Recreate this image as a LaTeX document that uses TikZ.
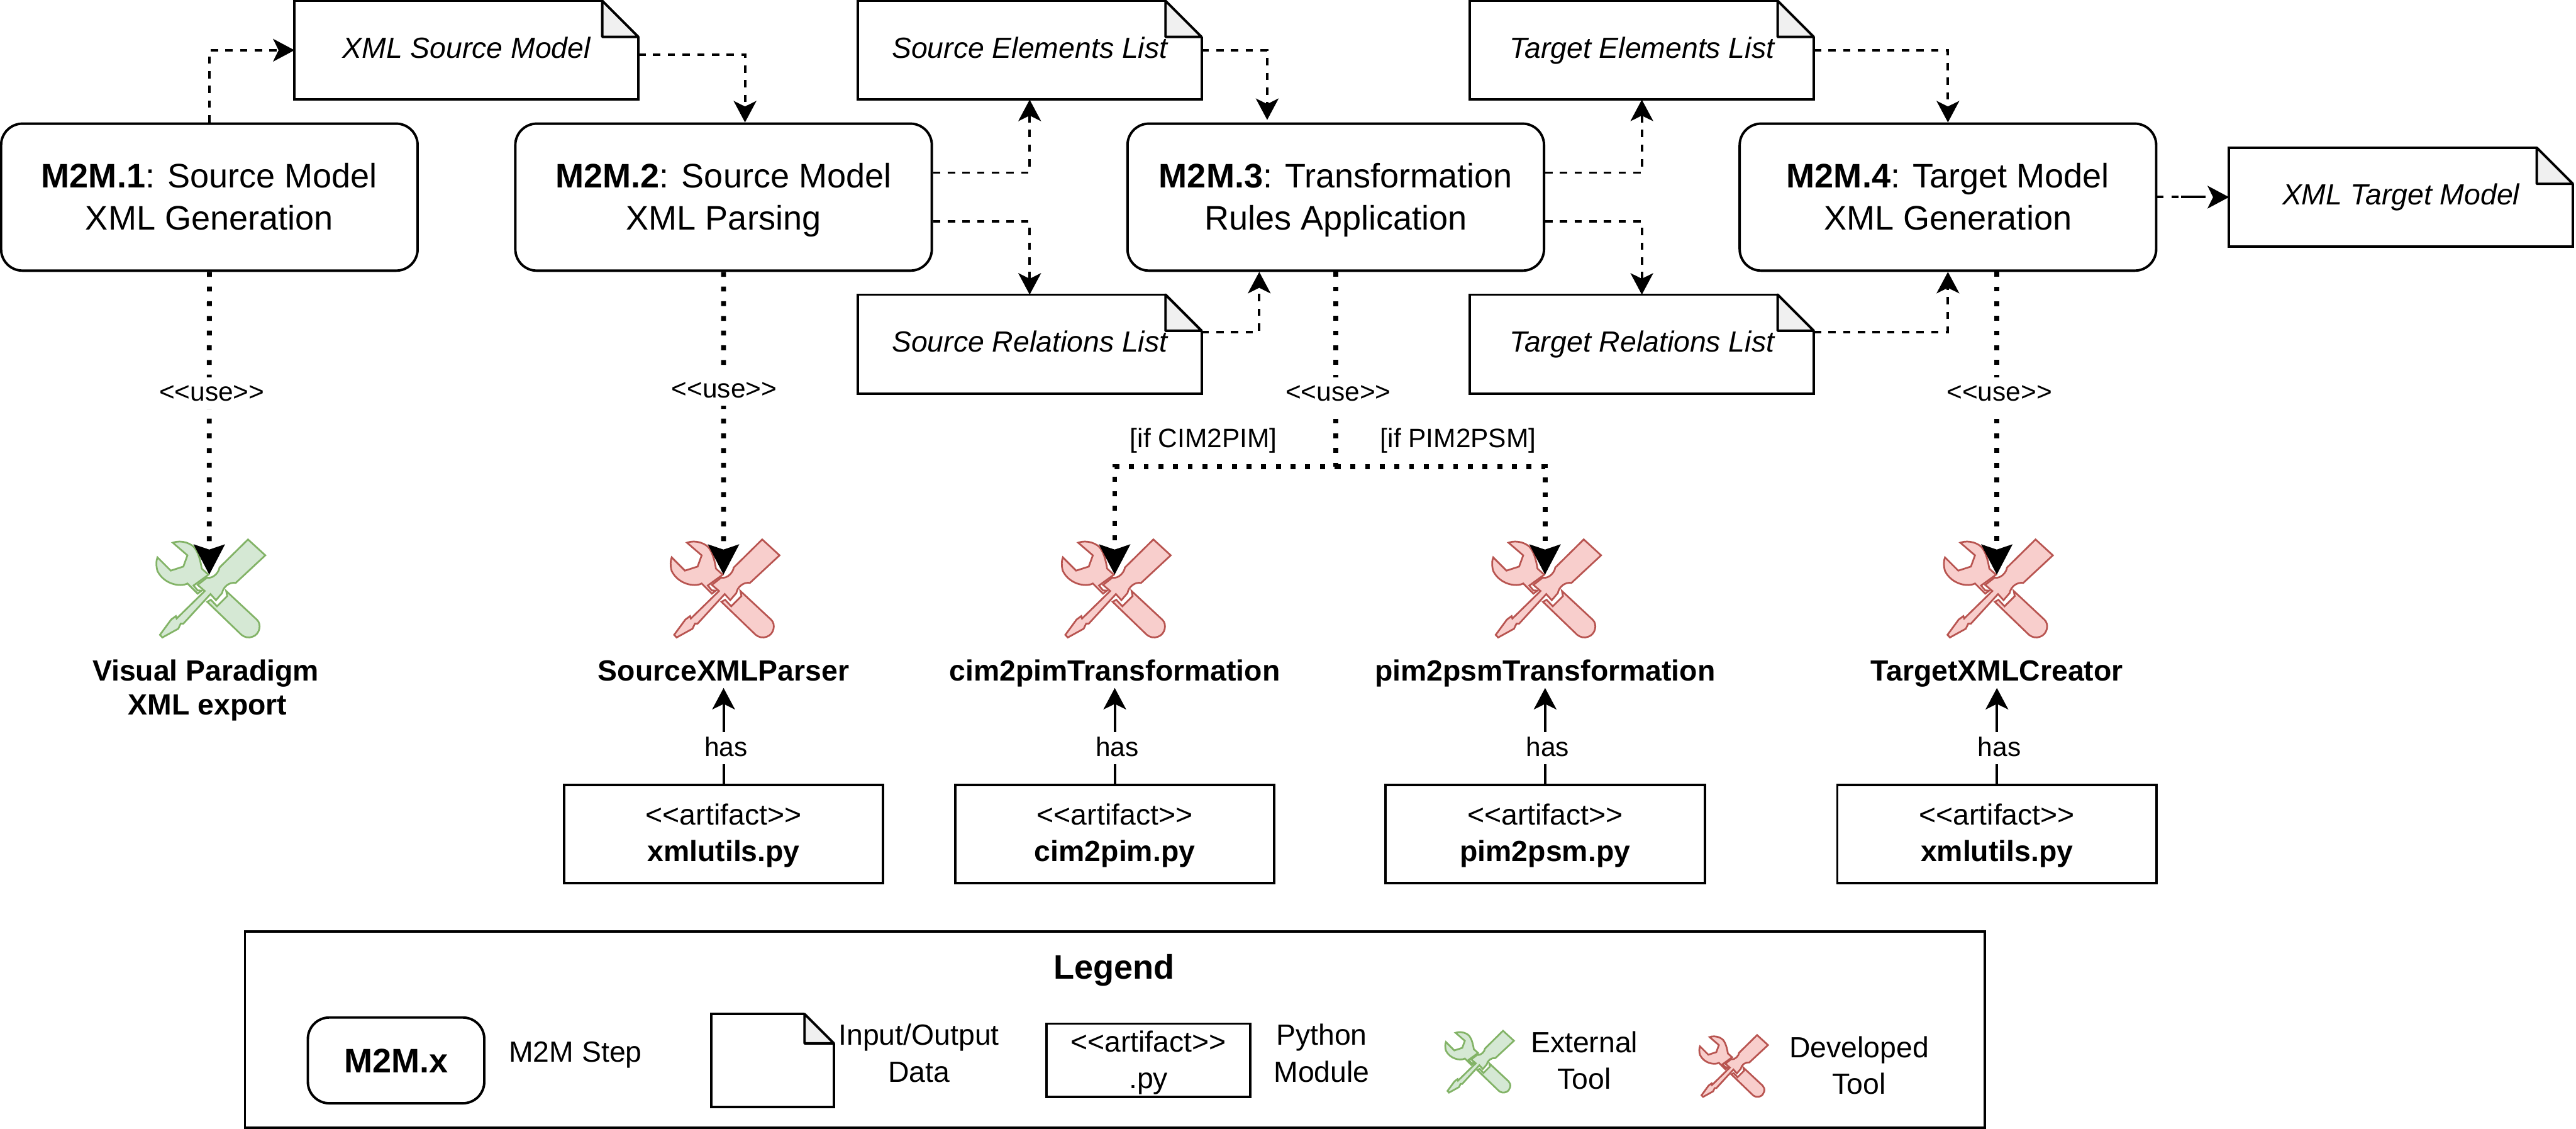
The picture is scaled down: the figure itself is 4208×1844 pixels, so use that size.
\documentclass[tikz,border=0pt]{standalone}
\usepackage{fontspec}
\setmainfont{Liberation Sans}
\usepackage{xcolor}
\usepackage{tikz}
\usetikzlibrary{calc}
\usetikzlibrary{arrows.meta}
\definecolor{toolgreen}{HTML}{82B366}
\definecolor{toolgreenfill}{HTML}{D5E8D4}
\definecolor{toolred}{HTML}{B85450}
\definecolor{toolredfill}{HTML}{F8CECC}
\definecolor{foldgray}{HTML}{F0F0F0}
\newcommand{\sizeL}{\fontsize{15.8}{19.35}\selectfont}
\newcommand{\sizeM}{\fontsize{13.55}{17}\selectfont}
\newcommand{\sizeS}{\fontsize{12.4}{15}\selectfont}
\tikzset{
 stepbox/.style={draw, line width=1.14pt, rounded corners=.35cm, minimum width=6.8cm, minimum height=2.4cm, align=center, font=\sizeL, text height=1.18cm, text depth=.12cm},
 notebox/.style={minimum width=5.6cm, minimum height=1.6cm, inner sep=0, font=\sizeM\itshape, text height=.35cm, text depth=.1cm},
 artifactbox/.style={draw, line width=1.14pt, minimum width=5.21cm, minimum height=1.6cm, inner sep=0, align=center, font=\sizeM, text height=1.02cm, text depth=.12cm},
 flowtip/.style={-{Stealth[length=.35cm, width=.37cm, inset=.09cm]}},
 flowline/.style={flowtip, line width=1.14pt, dash pattern=on 3.41pt off 3.41pt},
 useline/.style={line width=2.27pt, dash pattern=on 2.27pt off 4.55pt, -{Stealth[length=.49cm, width=.5cm, inset=.08cm]}},
 hasline/.style={flowtip, line width=1.14pt},
 smalllabel/.style={font=\sizeS, fill=white, inner sep=1, text height=.355cm, text depth=.095cm},
 plainlabel/.style={font=\sizeS, inner sep=1, text height=.355cm, text depth=.095cm},
 toolname/.style={font=\sizeM\bfseries, anchor=base, inner sep=0, text height=.36cm, text depth=.11cm},
 legendtext/.style={font=\sizeM, align=center, inner sep=0, anchor=base},
 greentool/.style={draw=toolgreen, fill=toolgreenfill},
 redtool/.style={draw=toolred, fill=toolredfill},
 toolicon/.pic={
  \path[pic actions, line width=.8pt] (-187,-224)..controls (-145,-240) and (-90,-220)..(-75,-192)..controls (-60,-170) and (-50,-130)..(-45,-97)--(-12,-67)--(-85,-14)--(-65,10)--(-45,11)--(-65,26)--(-115,-24)..controls (-150,-5) and (-230,-20)..(-262,-85)..controls (-270,-110) and (-268,-140)..(-262,-152)--(-197,-87)--(-135,-107)--(-115,-162)--cycle;
  \path[pic actions, line width=.8pt] (-18,66)--(0,56)--(30,88)--(80,38)--(75,13)--(225,153)..controls (250,175) and (240,225)..(205,237)..controls (185,245) and (165,240)..(150,228)--cycle;
  \path[pic actions, line width=.8pt] (182,-240)--(267,-162)--(122,-27)..controls (90,-32) and (60,-7)..(55,23)--(25,58)--(-2,28)--(-135,173)--(-148,173)--(-160,198)--(-238,241)--(-250,228)--(-195,153)--(-172,136)--(-168,148)--(-30,13)--(-65,-17)--(-20,-52)..controls (15,-47) and (40,-82)..(42,-102)--cycle;
  \coordinate (-tip) at (-8,-67);
 }
}
\newcommand{\docnote}[5]{
 \node[notebox,#3] (#1) at (#2) {#5};
 \draw[line width=1.14pt] ($(#1.north east)+(-#4,0)$)--(#1.north west)--(#1.south west)--(#1.south east)--($(#1.north east)+(0,#4)$);
 \draw[line width=1.14pt, fill=foldgray, line join=round] ($(#1.north east)+(-#4,0)$)--($(#1.north east)+(0,#4)$)--($(#1.north east)+(-#4,#4)$)--cycle;
}
\begin{document}
\begin{tikzpicture}[x=.01cm, y=-.01cm]
\useasboundingbox (0,0) rectangle (4208,1844);
\node[stepbox] (m1) at (342,322) {\textbf{M2M.1}: Source Model\\XML Generation};
\node[stepbox] (m2) at (1182,322) {\textbf{M2M.2}: Source Model\\XML Parsing};
\node[stepbox] (m3) at (2182,322) {\textbf{M2M.3}: Transformation\\Rules Application};
\node[stepbox] (m4) at (3182,322) {\textbf{M2M.4}: Target Model\\XML Generation};
\docnote{xs}{762,82}{}{59}{XML Source Model}
\docnote{se}{1682,82}{}{59}{Source Elements List}
\docnote{sr}{1682,562}{}{59}{Source Relations List}
\docnote{te}{2682,82}{}{59}{Target Elements List}
\docnote{tr}{2682,562}{}{59}{Target Relations List}
\docnote{xt}{3922,322}{}{59}{XML Target Model}
\pic[greentool, scale=.333] (t1) at (344.5,961) {toolicon};
\node[toolname] (n1) at (336,1112) {Visual Paradigm};
\node[toolname] (n1b) at (339,1168) {XML export};
\foreach \i/\x/\tname/\fname in {2/1182/SourceXMLParser/xmlutils.py, 3/1821/cim2pimTransformation/cim2pim.py, 4/2524/pim2psmTransformation/pim2psm.py, 5/3262/TargetXMLCreator/xmlutils.py} {
 \pic[redtool, scale=.333] (t\i) at (\x+2.5,961) {toolicon};
 \node[toolname] (n\i) at (\x,1112) {\tname};
 \node[artifactbox] (a\i) at (\x,1362) {<{}<artifact>{}>\\\textbf{\fname}};
 \draw[hasline] (a\i.north) -- (n\i.south);
 \node[smalllabel] (h\i) at (\x+4,1222) {has};
}
\draw[flowline] (m1.north) |- (xs.west);
\draw[flowline] ($(xs.east)+(0,7)$) -| ($(m2.north)+(35,0)$);
\draw[flowline] ($(m2.east)+(0,-40)$) -| (se.south);
\draw[flowline] ($(m2.east)+(0,40)$) -| (sr.north);
\draw[flowline] (se.east) -| ($(m3.north)+(-112,-4)$);
\draw[flowline] ($(sr.east)+(0,-20)$) -| ($(m3.south)+(-125,0)$);
\draw[flowline] ($(m3.east)+(0,-40)$) -| (te.south);
\draw[flowline] ($(m3.east)+(0,40)$) -| (tr.north);
\draw[flowline] (te.east) -| (m4.north);
\draw[flowline] ($(tr.east)+(0,-20)$) -| (m4.south);
\draw[flowtip, line width=1.14pt, dash pattern=on 2.85pt off 3.7pt on 3.4pt off 1.14pt on 11.4pt off 9pt] (m4.east) -- (xt.west);
\coordinate (fork) at (2182,762);
\draw[useline] (m1.south) -- (t1-tip);
\draw[useline] (m2.south) -- (t2-tip);
\draw[useline] (m3.south) -- (fork) -| (t3-tip);
\draw[useline] (fork) -| (t4-tip);
\draw[useline] (m4.south -| t5-tip) -- (t5-tip);
\node[smalllabel] (u1) at (346,642) {<{}<use>{}>};
\node[smalllabel] (u2) at (1183,637) {<{}<use>{}>};
\node[smalllabel] (u3) at (2186,642) {<{}<use>{}>};
\node[smalllabel] (u4) at (3266,642) {<{}<use>{}>};
\node[plainlabel] (c1) at (1966,718) {[if CIM2PIM]};
\node[plainlabel] (c2) at (2382,718) {[if PIM2PSM]};
\node[draw, line width=1.14pt, minimum width=28.4cm, minimum height=3.2cm] (legend) at (1821,1682) {};
\node[font=\sizeL\bfseries, anchor=base, inner sep=0] (title) at (1820,1599) {Legend};
\node[stepbox, minimum width=2.88cm, minimum height=1.4cm, font=\sizeL\bfseries, text height=.5cm, text depth=.1cm] (lstep) at (647,1732) {M2M.x};
\node[legendtext] (lsteptext) at (940,1735) {M2M Step};
\docnote{lnote}{1262,1732}{minimum width=1.99cm, minimum height=1.5cm}{48}{}
\node[legendtext] (lnotetext) at (1501,1767) {Input/Output\\Data};
\node[artifactbox, minimum width=3.32cm, minimum height=1.2cm, text height=1.04cm] (lart) at (1876,1732) {<{}<artifact>{}>\\.py};
\node[legendtext] (larttext) at (2159,1767) {Python\\Module};
\pic[greentool, scale=.21] (lt1) at (2417,1734) {toolicon};
\node[legendtext] (lt1text) at (2588,1779) {External\\Tool};
\pic[redtool, scale=.21] (lt2) at (2832,1741) {toolicon};
\node[legendtext] (lt2text) at (3037,1787) {Developed\\Tool};
\end{tikzpicture}
\end{document}
